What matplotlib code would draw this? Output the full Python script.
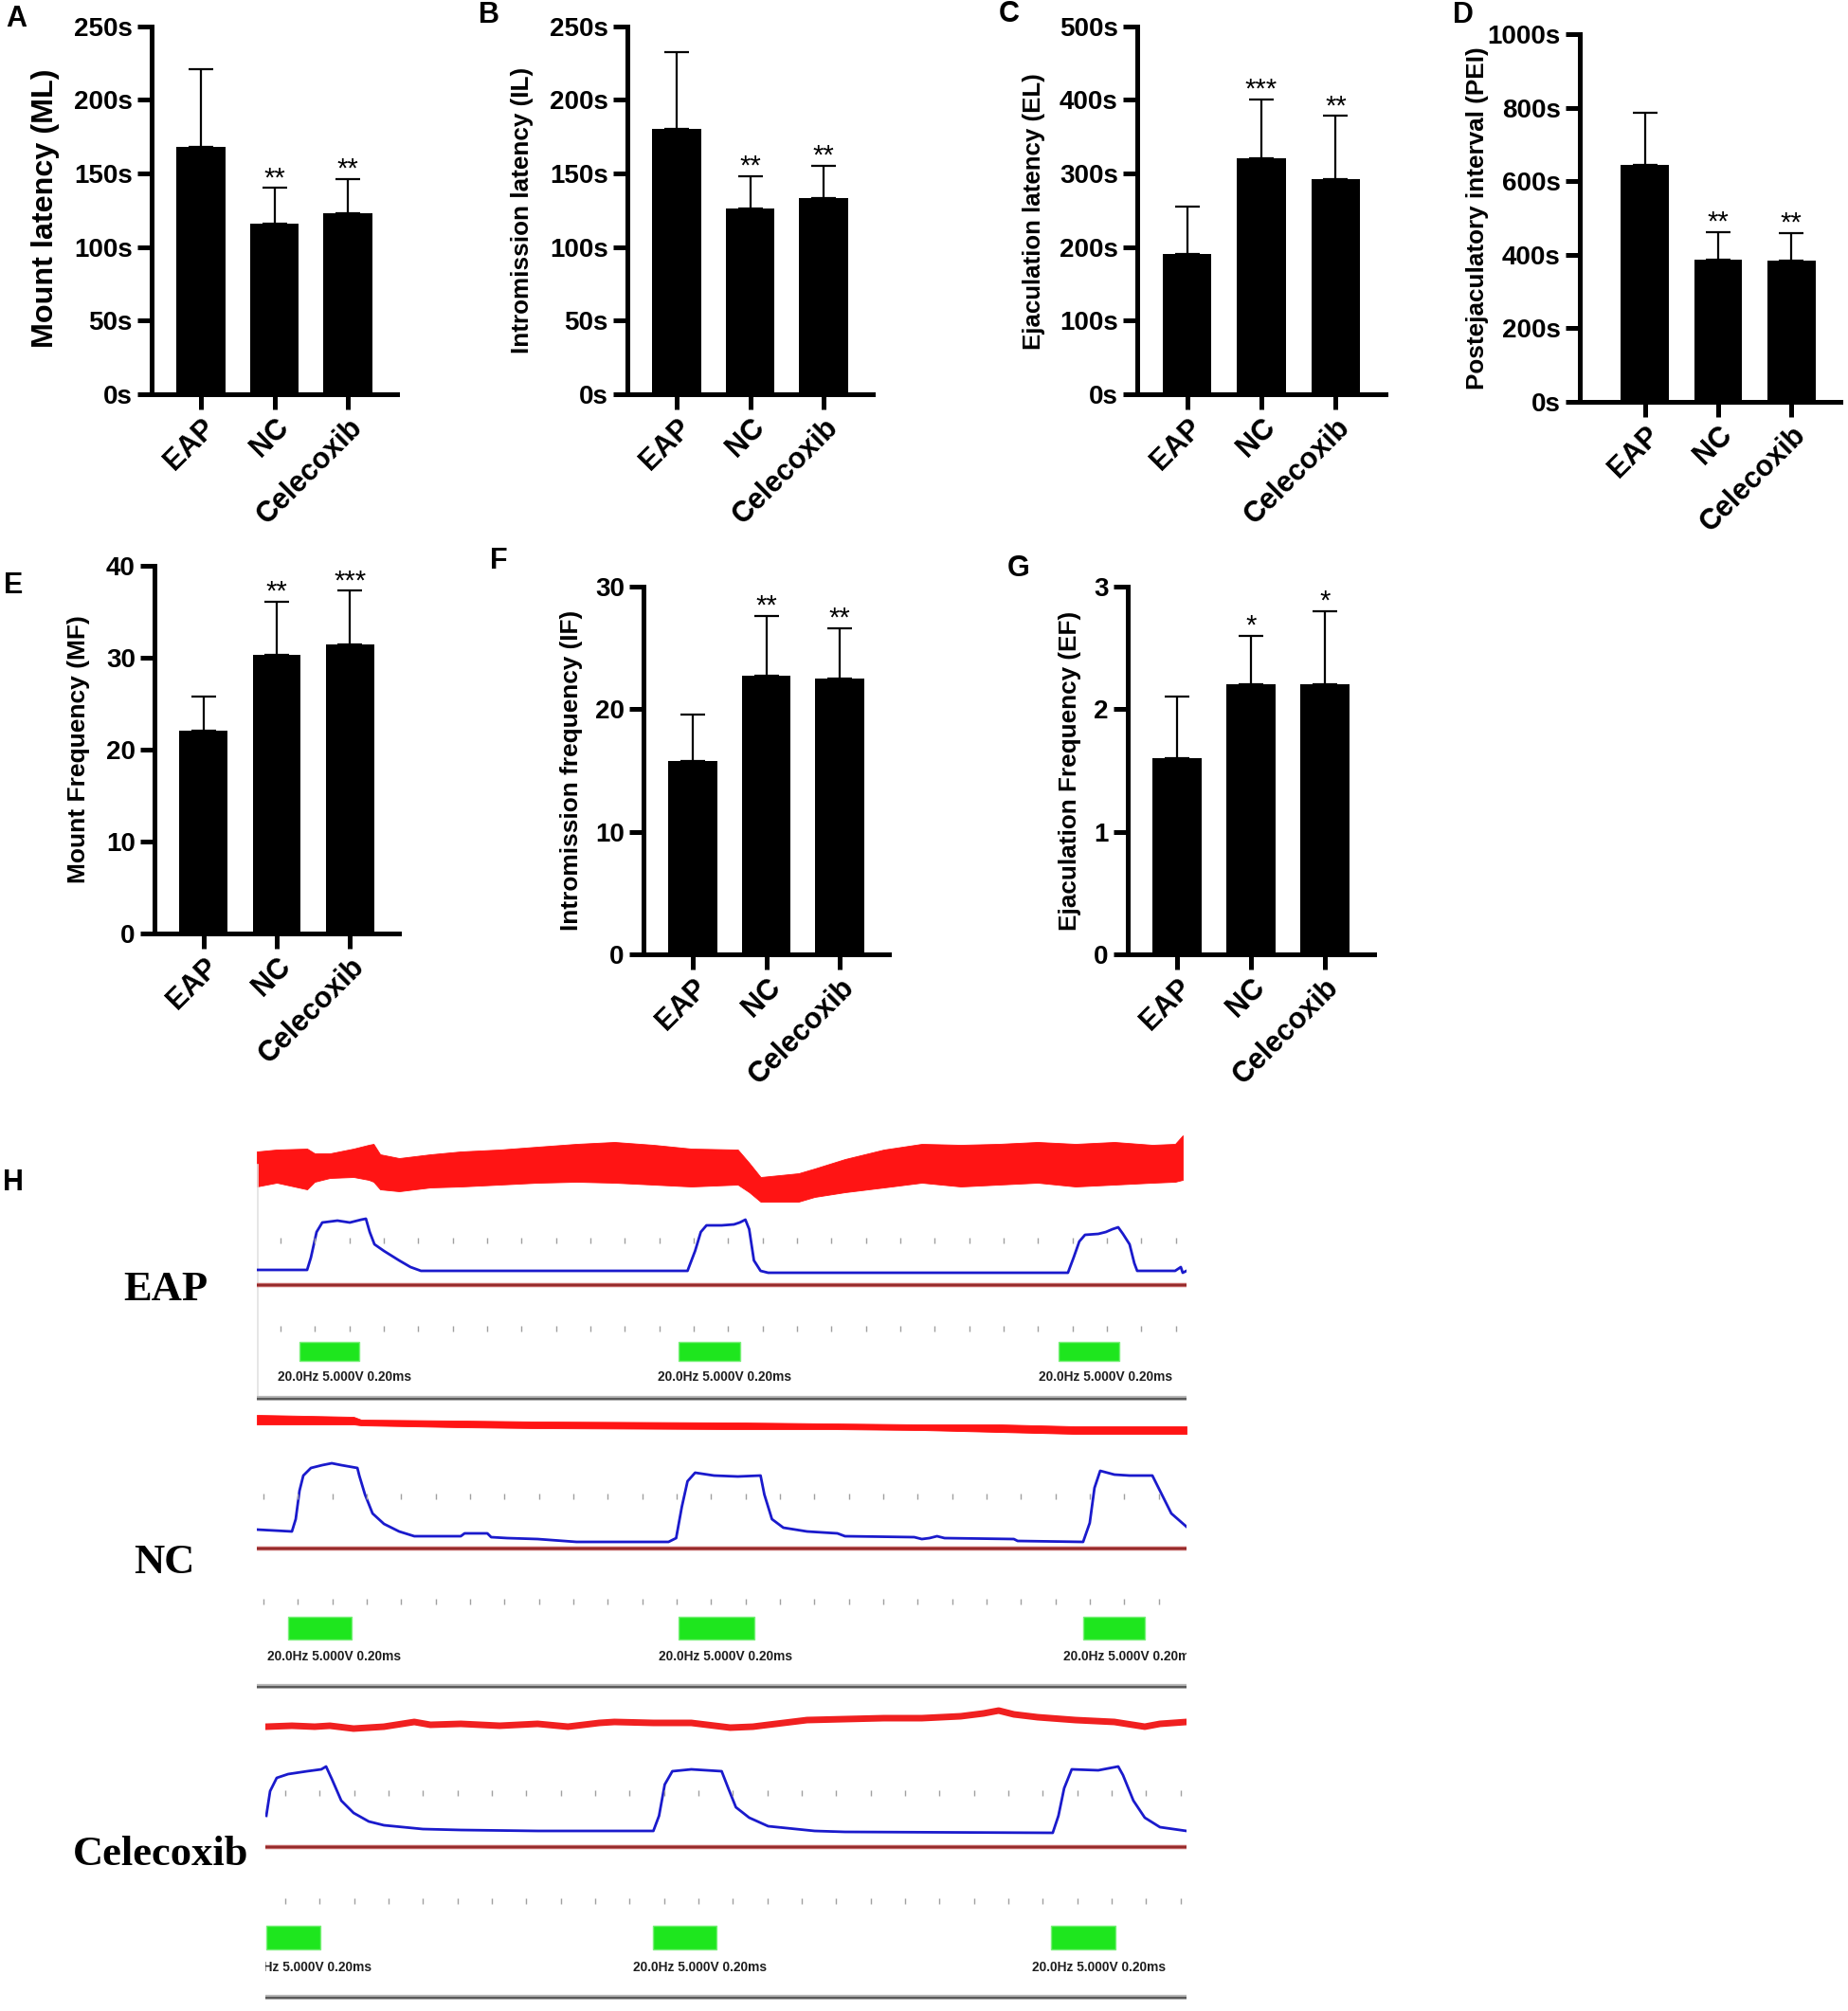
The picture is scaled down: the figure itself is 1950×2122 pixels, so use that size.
import numpy as np
import matplotlib
matplotlib.use('Agg')
import matplotlib.pyplot as plt
from matplotlib.patches import Rectangle

plt.rcParams['font.family'] = ['Liberation Sans', 'DejaVu Sans']
plt.rcParams['font.weight'] = 'bold'

groups = ['EAP', 'NC', 'Celecoxib']

# bar panels: mean and SD (upper error only), significance marks
ml_mean = [168, 116, 123]
ml_sd = [53, 24, 23]
ml_star = ['', '**', '**']

il_mean = [180, 126, 133]
il_sd = [52, 22, 22]
il_star = ['', '**', '**']

el_mean = [191, 320, 292]
el_sd = [64, 81, 86]
el_star = ['', '***', '**']

pei_mean = [645, 387, 385]
pei_sd = [141, 74, 75]
pei_star = ['', '**', '**']

mf_mean = [22.1, 30.3, 31.4]
mf_sd = [3.7, 5.8, 5.9]
mf_star = ['', '**', '***']

if_mean = [15.8, 22.7, 22.5]
if_sd = [3.8, 4.9, 4.1]
if_star = ['', '**', '**']

ef_mean = [1.6, 2.2, 2.2]
ef_sd = [0.5, 0.4, 0.6]
ef_star = ['', '*', '*']

sec_ticks_250 = [0, 50, 100, 150, 200, 250]
sec_ticks_500 = [0, 100, 200, 300, 400, 500]
sec_ticks_1000 = [0, 200, 400, 600, 800, 1000]
mf_ticks = [0, 10, 20, 30, 40]
if_ticks = [0, 10, 20, 30]
ef_ticks = [0, 1, 2, 3]

# panel H traces (x: sweep position, y: trace level)
eap_red_x = [0, 21, 53, 61, 77, 102, 118, 123, 130, 150, 183, 215, 256, 296, 337, 377, 418,
             458, 507, 519, 531, 571, 588, 620, 661, 701, 742, 782, 823, 863, 904, 944, 968, 976]
eap_red_top = [263, 265, 266, 261, 261, 266, 270, 271, 260, 256, 260, 263, 265, 268, 271, 273, 270,
               266, 265, 251, 236, 240, 245, 255, 265, 271, 270, 271, 273, 271, 273, 270, 271, 280]
eap_red_bot = [226, 230, 223, 231, 235, 236, 233, 231, 223, 221, 225, 226, 228, 230, 231, 230, 228,
               226, 228, 220, 210, 210, 215, 220, 225, 230, 226, 228, 230, 226, 228, 230, 231, 233]
eap_blue_x = [0, 53, 57, 63, 69, 85, 98, 110, 115, 119, 124, 134, 150, 162, 173, 215, 454, 462,
              468, 474, 490, 503, 509, 515, 519, 524, 531, 539, 855, 861, 867, 873, 887, 895,
              902, 908, 913, 920, 925, 928, 968, 974, 976, 980]
eap_blue_y = [138, 138, 151, 178, 188, 190, 188, 191, 192, 178, 165, 158, 148, 141, 137, 137, 137, 158,
              178, 185, 185, 186, 188, 191, 181, 148, 137, 135, 135, 151, 168, 175, 176, 178,
              181, 183, 176, 165, 145, 137, 137, 141, 135, 137]

nc_red_x = [0, 53, 102, 110, 215, 296, 507, 604, 701, 782, 863, 980]
nc_red_top = [289, 288, 287, 284, 283, 282, 281, 280, 279, 279, 277, 277]
nc_red_bot = [279, 279, 279, 278, 276, 275, 274, 274, 273, 271, 269, 269]
nc_blue_x = [0, 37, 41, 45, 49, 57, 69, 79, 89, 106, 108, 114, 122, 134, 150, 166, 215, 219, 243,
             247, 264, 296, 337, 377, 434, 442, 448, 454, 462, 482, 507, 531, 535, 543, 555,
             580, 612, 620, 693, 701, 709, 717, 725, 798, 802, 871, 878, 883, 889, 904, 920,
             944, 952, 964, 980]
nc_blue_y = [168, 166, 179, 209, 225, 233, 236, 238, 236, 233, 225, 205, 185, 174, 166, 161, 161, 164, 164,
             160, 159, 158, 155, 155, 155, 159, 192, 219, 228, 225, 224, 225, 205, 179, 170,
             166, 164, 161, 160, 158, 159, 161, 159, 158, 156, 155, 175, 212, 230, 226, 225,
             225, 209, 185, 171]

cel_red_x = [10, 37, 61, 77, 102, 134, 166, 183, 215, 256, 296, 328, 361, 377, 418, 458, 499,
             523, 539, 580, 620, 661, 701, 742, 766, 782, 798, 823, 863, 904, 936, 952, 980]
cel_red_y = [288, 289, 288, 289, 286, 288, 293, 290, 291, 289, 291, 288, 292, 293, 292, 292, 287,
             288, 290, 295, 296, 297, 297, 299, 302, 305, 301, 298, 295, 293, 288, 291, 293]
cel_blue_x = [10, 14, 21, 33, 53, 68, 73, 79, 89, 102, 118, 134, 175, 215, 296, 418, 424, 430,
              438, 458, 490, 497, 505, 519, 539, 588, 620, 839, 845, 851, 859, 887, 908, 913,
              924, 936, 952, 980]
cel_blue_y = [194, 220, 234, 238, 241, 243, 246, 233, 210, 197, 188, 184, 180, 179, 178, 178, 194, 227,
              241, 243, 241, 223, 203, 192, 183, 178, 177, 176, 194, 223, 243, 242, 246, 237,
              210, 192, 182, 178]

eap_stim_x = [45, 445, 845]
eap_stim_w = [63, 64, 64]
nc_stim_x = [33, 445, 871]
nc_stim_w = [67, 79, 65]
cel_stim_x = [10, 418, 837]
cel_stim_w = [57, 67, 68]
stim_text = '20.0Hz 5.000V 0.20ms'

W, H = 1950, 2122
fig = plt.figure(figsize=(W / 100, H / 100), dpi=100)


def px_axes(left, top, right, bottom):
    return fig.add_axes([left / W, 1 - bottom / H, (right - left) / W, (bottom - top) / H])


def fit_length(t, target, vertical=True):
    r = fig.canvas.get_renderer()
    bb = t.get_window_extent(r)
    cur = bb.height if vertical else bb.width
    t.set_fontsize(t.get_fontsize() * target / cur)


def bar_panel(box, means, sds, stars, ticks, unit, ylabel, ylab_pos, ylab_len,
              letter, letter_pos, xleft=-0.67):
    ax = px_axes(*box)
    x = np.arange(len(groups))
    ax.bar(x, means, width=0.66, color='black', zorder=2)
    ax.errorbar(x, means, yerr=[np.zeros(len(sds)), sds], fmt='none', ecolor='black',
                elinewidth=1.6, capsize=9.7, capthick=1.6, zorder=1)
    for xi, m, s, st in zip(x, means, sds, stars):
        if st:
            ax.annotate(st, (xi, m + s), xytext=(0, 1.5), textcoords='offset points',
                        ha='center', va='baseline', fontsize=21, fontweight='normal')
    ax.set_xlim(xleft, 2.67)
    ax.set_ylim(ticks[0], ticks[-1])
    ax.set_yticks(ticks, [f'{t}{unit}' for t in ticks], fontsize=20, fontweight='bold')
    ax.set_xticks(x, groups, fontsize=22, fontweight='bold', rotation=45,
                  ha='right', va='top', rotation_mode='anchor')
    for side in ['top', 'right']:
        ax.spines[side].set_visible(False)
    for side in ['left', 'bottom']:
        ax.spines[side].set_linewidth(3.6)
    ax.tick_params(axis='y', length=10.5, width=3.6, pad=4)
    ax.tick_params(axis='x', length=11.5, width=3.6, pad=3)
    t = fig.text(ylab_pos[0] / W, 1 - ylab_pos[1] / H, ylabel, rotation=90,
                 ha='center', va='center', fontsize=18, fontweight='bold')
    fit_length(t, ylab_len)
    fig.text(letter_pos[0] / W, 1 - letter_pos[1] / H, letter, ha='center', va='center',
             fontsize=22, fontweight='bold')
    return ax


bar_panel((160, 27.5, 419, 416), ml_mean, ml_sd, ml_star, sec_ticks_250, 's',
          'Mount latency (ML)', (48, 220), 295, 'A', (17, 20))
bar_panel((662, 27.5, 921, 416), il_mean, il_sd, il_star, sec_ticks_250, 's',
          'Intromission latency (IL)', (551, 222), 302, 'B', (516, 16))
bar_panel((1200, 27.6, 1462, 416), el_mean, el_sd, el_star, sec_ticks_500, 's',
          'Ejaculation latency (EL)', (1091, 223), 292, 'C', (1065, 15))
bar_panel((1667, 36, 1942, 424), pei_mean, pei_sd, pei_star, sec_ticks_1000, 's',
          'Postejaculatory interval (PEI)', (1559, 230), 361, 'D', (1544, 16), xleft=-0.89)
bar_panel((163, 597, 421, 985), mf_mean, mf_sd, mf_star, mf_ticks, '',
          'Mount Frequency (MF)', (83, 791), 283, 'E', (14, 618))
bar_panel((679, 619, 938, 1007), if_mean, if_sd, if_star, if_ticks, '',
          'Intromission frequency (IF)', (603, 813), 339, 'F', (526, 592))
bar_panel((1190, 619, 1450, 1007), ef_mean, ef_sd, ef_star, ef_ticks, '',
          'Ejaculation Frequency (EF)', (1129, 813), 337, 'G', (1075, 600))

fig.text(14 / W, 1 - 1248 / H, 'H', ha='center', va='center', fontsize=22, fontweight='bold')


def trace_panel(box, xlim, ytop, red, blue, brown_y, dot_rows, dot_start, stim_x, stim_w,
                stim_y, text_x, text_y, name, name_pos, border=False):
    ax = px_axes(*box)
    ax.set_xlim(*xlim)
    ax.set_ylim(0, ytop)
    ax.axis('off')
    if border:
        ax.axvline(xlim[0] + 0.5, ymin=0.02, ymax=0.86, color='#e2e2e2', lw=1.2)
    if len(red) == 3:
        ax.fill_between(red[0], red[2], red[1], color='#ff1414', lw=0.6, edgecolor='#ff1414')
    else:
        ax.plot(red[0], red[1], color='#f02020', lw=5, solid_joinstyle='round')
    ax.plot(blue[0], blue[1], color='#1a1acc', lw=2.0)
    ax.axhline(brown_y, color='#c06060', lw=3.2)
    ax.axhline(brown_y, color='#8c2020', lw=1.2)
    ticks_x = np.arange(dot_start, xlim[1], 36.3)
    for yy in dot_rows:
        ax.plot(ticks_x, np.full(len(ticks_x), yy), ls='none', marker='|', ms=4,
                mew=1.0, color='#a0a0a0')
    for sx, sw in zip(stim_x, stim_w):
        ax.add_patch(Rectangle((sx, stim_y[0]), sw, stim_y[1] - stim_y[0],
                               facecolor='#1ee61e', edgecolor='#7af07a', lw=1))
    for tx in text_x:
        t = ax.text(tx, text_y, stim_text, ha='left', va='center', fontsize=10.5,
                    fontweight='bold', color='#1e1e1e', clip_on=True,
                    family=['Liberation Sans Narrow', 'Liberation Sans'])
        fit_length(t, 143, vertical=False)
    ax.axhline(2, color='#b8b8b8', lw=4.5)
    ax.axhline(2, color='#5a5a5a', lw=1.6)
    fig.text(name_pos[0] / W, 1 - name_pos[1] / H, name, ha='center', va='center',
             fontsize=32, fontweight='bold', family=['Liberation Serif', 'DejaVu Serif'])


trace_panel((271, 1188, 1252, 1478), (0, 980), 290,
            (eap_red_x, eap_red_top, eap_red_bot), (eap_blue_x, eap_blue_y), 122,
            [169, 76], 25, eap_stim_x, eap_stim_w, (42, 62), [22, 423, 824], 25,
            'EAP', (175, 1361), border=True)
trace_panel((271, 1490, 1252, 1782), (0, 980), 292,
            (nc_red_x, nc_red_top, nc_red_bot), (nc_blue_x, nc_blue_y), 148,
            [203, 92], 7, nc_stim_x, nc_stim_w, (52, 76), [11, 424, 850], 34,
            'NC', (173, 1649))
trace_panel((280, 1800, 1252, 2110), (9, 980), 310,
            (cel_red_x, cel_red_y), (cel_blue_x, cel_blue_y), 161,
            [218, 104], 30, cel_stim_x, cel_stim_w, (53, 78), [-20, 397, 817], 34,
            'Celecoxib', (170, 1957))

fig.savefig('out.png', dpi=100, facecolor='white')
